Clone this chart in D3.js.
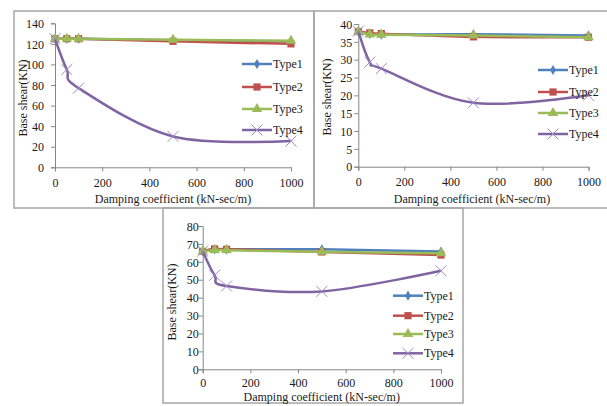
<!DOCTYPE html>
<html>
<head>
<meta charset="utf-8">
<script src="https://cdn.jsdelivr.net/npm/d3@7/dist/d3.min.js"></script>
<style>
  html, body { margin: 0; padding: 0; background: #fff; }
  svg { display: block; }
</style>
</head>
<body>
<svg id="chart" width="607" height="406"></svg>
<script>
// ---------------- DATA ----------------
const dampingCoefficients = [0, 50, 100, 500, 1000];
const seriesNames = ["Type1", "Type2", "Type3", "Type4"];

// Panel A (top-left)
const panelA_Type1 = [125, 125, 125, 123.5, 122.5];
const panelA_Type2 = [125, 125, 125, 122.5, 120];
const panelA_Type3 = [125, 125, 125, 124, 123];
const panelA_Type4 = [125, 95, 77, 30, 25.5];
const panelA_yTicks = [0, 20, 40, 60, 80, 100, 120, 140];

// Panel B (top-right)
const panelB_Type1 = [37.8, 37.2, 37.0, 37.1, 36.8];
const panelB_Type2 = [37.9, 37.5, 37.3, 36.4, 36.3];
const panelB_Type3 = [37.8, 37.1, 37.0, 36.8, 36.3];
const panelB_Type4 = [38, 29.3, 27.5, 17.9, 20];
const panelB_yTicks = [0, 5, 10, 15, 20, 25, 30, 35, 40];

// Panel C (bottom)
const panelC_Type1 = [66, 67, 67, 67, 65.7];
const panelC_Type2 = [65.8, 67.2, 67, 65.5, 63.8];
const panelC_Type3 = [65.8, 66.5, 66.5, 65.6, 64.8];
const panelC_Type4 = [66, 52.5, 46.5, 43.5, 55];
const panelC_yTicks = [0, 10, 20, 30, 40, 50, 60, 70, 80];

const xTicks = [0, 200, 400, 600, 800, 1000];
const xTitle = "Damping coefficient (kN-sec/m)";
const yTitle = "Base shear(KN)";

// ---------------- STYLE / LAYOUT ----------------
const FONT = "'Liberation Serif', 'Times New Roman', serif";
const TEXT_COLOR = "#1a1a1a";
const colors = ["#4F81BD", "#C0504D", "#9BBB59", "#8064A2"];
const markerColors = ["#4F81BD", "#C0504D", "#9BBB59", "#A08CC4"];

const panels = [
  { series: [panelA_Type1, panelA_Type2, panelA_Type3, panelA_Type4], yTicks: panelA_yTicks,
    box: [14, 11, 314, 208], xr: [55, 291], yr: [167.3, 23.3], xLabY: 183, yLabGap: 11,
    legX: 242, legRows: [64, 87, 109, 130], xTitlePos: [173, 199], yTitlePos: [23, 98] },
  { series: [panelB_Type1, panelB_Type2, panelB_Type3, panelB_Type4], yTicks: panelB_yTicks,
    box: [314, 11, 608, 208], xr: [358.3, 588.5], yr: [166.7, 24], xLabY: 182, yLabGap: 6,
    legX: 538, legRows: [70, 92, 113, 134], xTitlePos: [472, 199], yTitlePos: [327, 97] },
  { series: [panelC_Type1, panelC_Type2, panelC_Type3, panelC_Type4], yTicks: panelC_yTicks,
    box: [163, 208, 463, 403], xr: [202.7, 441], yr: [369.3, 226], xLabY: 383.3, yLabGap: 4,
    legX: 393, legRows: [295.7, 315.7, 334, 353.3], xTitlePos: [321.7, 396.7], yTitlePos: [171.7, 302] }
];

const svg = d3.select("#chart");

function drawMarker(g, i, x, y) {
  if (i === 0) {
    g.append("path").attr("d", d3.symbol(d3.symbolDiamond, 30)())
      .attr("transform", `translate(${x},${y})`).attr("fill", markerColors[0]);
  } else if (i === 1) {
    g.append("path").attr("d", d3.symbol(d3.symbolSquare, 52)())
      .attr("transform", `translate(${x},${y})`).attr("fill", markerColors[1]);
  } else if (i === 2) {
    g.append("path").attr("d", d3.symbol(d3.symbolTriangle, 48)())
      .attr("transform", `translate(${x},${y})`).attr("fill", markerColors[2]);
  } else {
    g.append("path").attr("d", d3.symbol(d3.symbolX, 80)())
      .attr("transform", `translate(${x},${y})`).attr("fill", "none")
      .attr("stroke", markerColors[3]).attr("stroke-width", 1);
  }
}

panels.forEach(p => {
  const [bx0, by0, bx1, by1] = p.box;
  svg.append("rect").attr("x", bx0).attr("y", by0).attr("width", bx1 - bx0).attr("height", by1 - by0)
    .attr("fill", "none").attr("stroke", "#a6a6a6").attr("stroke-width", 1.5);

  const x = d3.scaleLinear().domain([0, 1000]).range(p.xr);
  const yMax = p.yTicks[p.yTicks.length - 1];
  const y = d3.scaleLinear().domain([0, yMax]).range(p.yr);

  const g = svg.append("g").attr("font-family", FONT);

  // x axis
  const xAxis = g.append("g").attr("transform", `translate(0,${p.yr[0]})`)
    .call(d3.axisBottom(x).tickValues(xTicks).tickSize(4).tickPadding(0).tickFormat(d3.format("d")));
  xAxis.attr("font-family", FONT).attr("font-size", 12);
  xAxis.select(".domain").attr("stroke", "#868686").attr("stroke-width", 1);
  xAxis.selectAll(".tick line").attr("stroke", "#868686");
  xAxis.selectAll(".tick text").attr("y", p.xLabY - p.yr[0] + 4).attr("dy", null)
    .attr("font-family", FONT).attr("font-size", 12).attr("fill", TEXT_COLOR);

  // y axis
  const yAxis = g.append("g").attr("transform", `translate(${p.xr[0]},0)`)
    .call(d3.axisLeft(y).tickValues(p.yTicks).tickSize(4).tickPadding(0).tickFormat(d3.format("d")));
  yAxis.attr("font-family", FONT).attr("font-size", 12);
  yAxis.select(".domain").attr("stroke", "#868686").attr("stroke-width", 1);
  yAxis.selectAll(".tick line").attr("stroke", "#868686");
  yAxis.selectAll(".tick text").attr("x", -p.yLabGap).attr("dy", "0.35em")
    .attr("font-family", FONT).attr("font-size", 12).attr("fill", TEXT_COLOR);

  // titles
  g.append("text").attr("x", p.xTitlePos[0]).attr("y", p.xTitlePos[1] + 4)
    .attr("text-anchor", "middle").attr("font-family", FONT).attr("font-size", 12)
    .attr("fill", TEXT_COLOR).text(xTitle);
  g.append("text").attr("transform", `translate(${p.yTitlePos[0] + 4},${p.yTitlePos[1]}) rotate(-90)`)
    .attr("text-anchor", "middle").attr("font-family", FONT).attr("font-size", 12)
    .attr("fill", TEXT_COLOR).text(yTitle);

  // series
  const line = d3.line().x(d => x(d[0])).y(d => y(d[1])).curve(d3.curveCardinal.tension(0));
  p.series.forEach((vals, i) => {
    const pts = dampingCoefficients.map((c, k) => [c, vals[k]]);
    g.append("path").attr("d", line(pts)).attr("fill", "none")
      .attr("stroke", colors[i]).attr("stroke-width", 2.5);
    pts.forEach(pt => drawMarker(g, i, x(pt[0]), y(pt[1])));
  });

  // legend
  p.legRows.forEach((ly, i) => {
    g.append("line").attr("x1", p.legX).attr("x2", p.legX + 30).attr("y1", ly).attr("y2", ly)
      .attr("stroke", colors[i]).attr("stroke-width", 2.5);
    drawMarker(g, i, p.legX + 15, ly);
    g.append("text").attr("x", p.legX + 31).attr("y", ly + 4)
      .attr("font-family", FONT).attr("font-size", 12).attr("fill", TEXT_COLOR).text(seriesNames[i]);
  });
});
</script>
</body>
</html>
